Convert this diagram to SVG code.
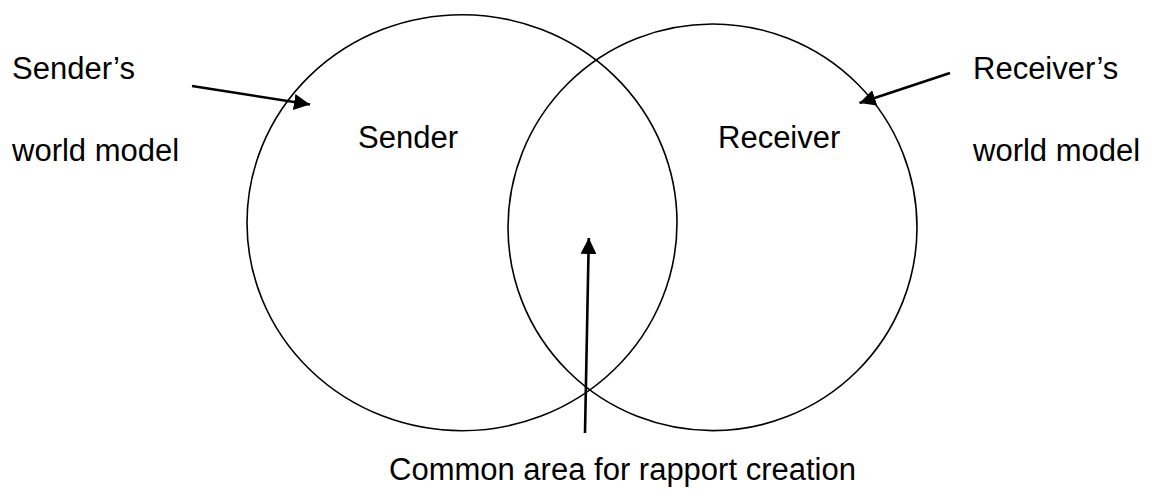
<svg xmlns="http://www.w3.org/2000/svg" width="1157" height="495" viewBox="0 0 1157 495">
  <defs>
    <style>
      .ring { fill: none; stroke: #000; stroke-width: 1.6; }
      .lbl { font-family: "Liberation Sans", Arial, sans-serif; font-size: 31px; fill: #000; }
      .link { fill: none; stroke: #000; stroke-width: 2.6; marker-end: url(#head); }
    </style>
    <marker id="head" viewBox="0 0 16 16" refX="16" refY="8" markerWidth="16" markerHeight="16" markerUnits="userSpaceOnUse" orient="auto">
      <path d="M0,0 L16,8 L0,16 z" fill="#000"/>
    </marker>
  </defs>
  <rect width="1157" height="495" fill="#fff"/>

  <!-- world model of the sender -->
  <g id="sender">
    <ellipse class="ring" cx="462" cy="222.7" rx="215" ry="208"/>
    <text class="lbl" x="358" y="148">Sender</text>
  </g>

  <!-- world model of the receiver -->
  <g id="receiver">
    <ellipse class="ring" cx="712.5" cy="227.3" rx="204.5" ry="203.3"/>
    <text class="lbl" x="718" y="148">Receiver</text>
  </g>

  <g id="sender-caption">
    <text class="lbl" x="12" y="79">Sender’s</text>
    <text class="lbl" x="12" y="161">world model</text>
  </g>

  <g id="receiver-caption">
    <text class="lbl" x="973" y="79">Receiver’s</text>
    <text class="lbl" x="973" y="161">world model</text>
  </g>

  <g id="common-caption">
    <text class="lbl" x="389" y="480">Common area for rapport creation</text>
  </g>

  <!-- pointers -->
  <g id="connectors">
    <line class="link" x1="192" y1="86" x2="310" y2="104.5"/>
    <line class="link" x1="950" y1="73" x2="859.5" y2="102.9"/>
    <line class="link" x1="585" y1="433" x2="588.8" y2="238"/>
  </g>
</svg>
